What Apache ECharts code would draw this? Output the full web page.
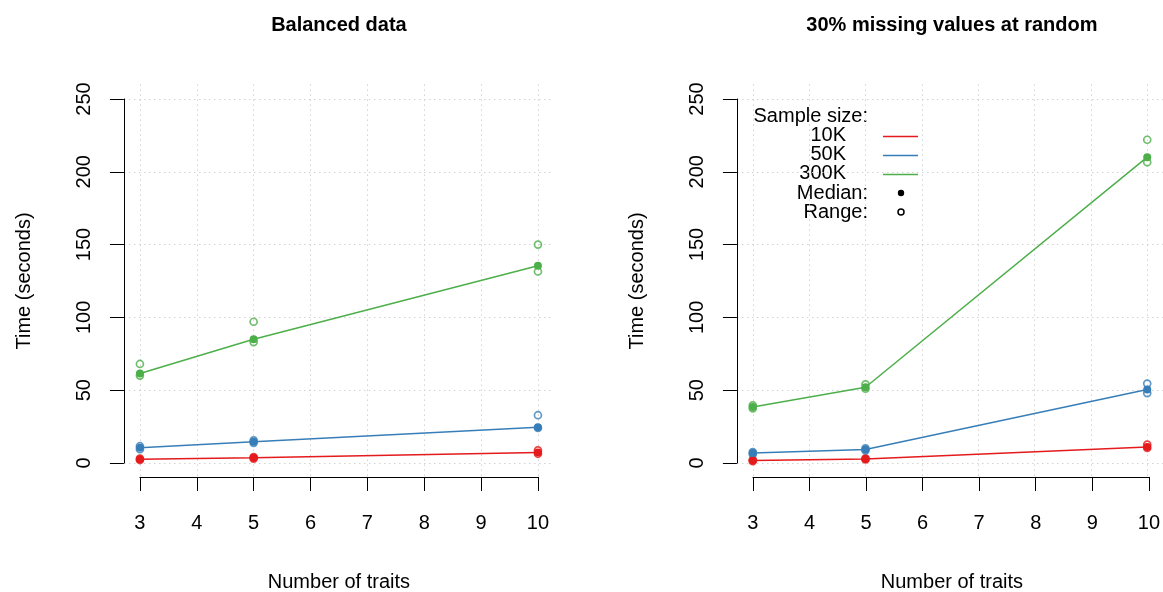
<!DOCTYPE html>
<html>
<head>
<meta charset="utf-8">
<script src="https://cdn.jsdelivr.net/npm/echarts@6/dist/echarts.min.js"></script>
<style>
  html, body { margin: 0; padding: 0; background: #fff; }
  #chart { width: 1163px; height: 592px; }
</style>
</head>
<body>
<div id="chart"></div>
<script>
// data
const traits = [3, 5, 10];
const sizes = ['10K', '50K', '300K'];
const colors = ['#E41A1C', '#377EB8', '#4DAF4A'];

// balanced data: median / min / max per sample size
const balMed10K = [2.5, 3.5, 7.2];
const balMin10K = [2.0, 3.0, 6.3];
const balMax10K = [3.0, 4.0, 8.6];
const balMed50K = [10.5, 14.5, 24.5];
const balMin50K = [9.5, 13.8, 24.0];
const balMax50K = [11.5, 15.5, 32.8];
const balMed300K = [61.5, 85, 135.5];
const balMin300K = [60, 83, 131.5];
const balMax300K = [68, 97, 150];

// 30% missing values
const misMed10K = [1.7, 2.8, 11.0];
const misMin10K = [1.3, 2.4, 10.3];
const misMax10K = [2.1, 3.2, 12.6];
const misMed50K = [6.8, 9.2, 50.5];
const misMin50K = [6.0, 8.6, 48.0];
const misMax50K = [7.5, 10.0, 54.5];
const misMed300K = [38.5, 52, 210];
const misMin300K = [37.5, 51, 206.5];
const misMax300K = [39.5, 54, 222];

const titles = ['Balanced data', '30% missing values at random'];

// layout (R style: plot region padded 4% around the data range)
const FONT = '"Liberation Sans", Arial, Helvetica, sans-serif';
const UX = 56.86;        // px per trait
const UY = 1.456;        // px per second
const panelLeft = [124, 737];
const plotTop = 84.4;
const plotW = 7.56 * UX;
const plotH = 270 * UY;

const grids = [];
const xAxes = [];
const yAxes = [];

panelLeft.forEach(function (pl) {
  // grid A: whole plot region, only the dotted grid lines
  grids.push({ left: pl, top: plotTop, width: plotW, height: plotH, containLabel: false });
  // grid B: axis range, visible axes
  grids.push({ left: pl + 0.28 * UX, top: plotTop + 10 * UY, width: 7 * UX, height: 250 * UY, containLabel: false });
});

const gridLine = {
  show: true,
  showMinLine: false,
  showMaxLine: false,
  lineStyle: { color: '#d3d3d3', width: 1, type: [1.5, 3.5] }
};

for (let g = 0; g < 4; g++) {
  if (g % 2 === 0) {
    xAxes.push({
      gridIndex: g, type: 'value', min: 2.72, max: 10.28,
      minInterval: 1, maxInterval: 1, splitNumber: 7,
      axisLine: { show: false }, axisTick: { show: false }, axisLabel: { show: false },
      splitLine: gridLine
    });
    yAxes.push({
      gridIndex: g, type: 'value', min: -10, max: 260,
      minInterval: 50, maxInterval: 50, splitNumber: 5,
      axisLine: { show: false }, axisTick: { show: false }, axisLabel: { show: false },
      splitLine: gridLine
    });
  } else {
    xAxes.push({
      gridIndex: g, type: 'value', min: 3, max: 10, interval: 1, offset: 14,
      axisLine: { show: true, onZero: false, lineStyle: { color: '#000', width: 1 } },
      axisTick: { show: true, length: 14, lineStyle: { color: '#000', width: 1 } },
      axisLabel: { color: '#000', fontSize: 20, fontFamily: FONT, margin: 37 },
      splitLine: { show: false }
    });
    yAxes.push({
      gridIndex: g, type: 'value', min: 0, max: 250, interval: 50, offset: 16,
      axisLine: { show: true, onZero: false, lineStyle: { color: '#000', width: 1 } },
      axisTick: { show: true, length: 14, lineStyle: { color: '#000', width: 1 } },
      axisLabel: { color: '#000', fontSize: 20, fontFamily: FONT, rotate: 90, margin: 29 },
      splitLine: { show: false }
    });
  }
}

function pts(arr) {
  return traits.map(function (t, k) { return [t, arr[k]]; });
}

function panelSeries(axisIdx, meds, mins, maxs) {
  const out = [];
  sizes.forEach(function (s, i) {
    out.push({
      type: 'scatter', name: s + ' range', xAxisIndex: axisIdx, yAxisIndex: axisIdx,
      data: pts(mins[i]).concat(pts(maxs[i])),
      symbol: 'circle', symbolSize: 7,
      itemStyle: { color: 'rgba(0,0,0,0)', borderColor: colors[i], borderWidth: 1.7 },
      silent: true, z: 3
    });
    out.push({
      type: 'line', name: s, xAxisIndex: axisIdx, yAxisIndex: axisIdx,
      data: pts(meds[i]),
      symbol: 'circle', symbolSize: 8, showSymbol: true, clip: false,
      lineStyle: { color: colors[i], width: 1.5 },
      itemStyle: { color: colors[i] },
      silent: true, z: 4
    });
  });
  return out;
}

const series = [].concat(
  panelSeries(0, [balMed10K, balMed50K, balMed300K], [balMin10K, balMin50K, balMin300K], [balMax10K, balMax50K, balMax300K]),
  panelSeries(2, [misMed10K, misMed50K, misMed300K], [misMin10K, misMin50K, misMin300K], [misMax10K, misMax50K, misMax300K])
);

// texts: titles, axis titles and the legend of the right panel
function txt(s, x, y, opts) {
  return {
    type: 'text', silent: true,
    x: x, y: y, rotation: (opts && opts.rotation) || 0,
    style: {
      text: s, fill: '#000',
      font: ((opts && opts.bold) ? 'bold ' : '') + '20px ' + FONT,
      align: (opts && opts.align) || 'center', verticalAlign: 'middle'
    }
  };
}

const graphics = [];
panelLeft.forEach(function (pl, p) {
  const cx = pl + plotW / 2;
  graphics.push(txt(titles[p], cx, 25, { bold: true }));
  graphics.push(txt('Number of traits', cx, 582));
  graphics.push(txt('Time (seconds)', pl - 100, plotTop + plotH / 2, { rotation: Math.PI / 2 }));
});

const lg = panelLeft[1];
graphics.push(txt('Sample size:', lg + 131, 116, { align: 'right' }));
const legendRowY = [135.5, 154.5, 173.5];
sizes.forEach(function (s, i) {
  graphics.push(txt(s, lg + 109, legendRowY[i], { align: 'right' }));
  graphics.push({
    type: 'line', silent: true,
    shape: { x1: lg + 146, y1: legendRowY[i] + 1, x2: lg + 181, y2: legendRowY[i] + 1 },
    style: { stroke: colors[i], lineWidth: 1.5 }
  });
});
graphics.push(txt('Median:', lg + 131, 193, { align: 'right' }));
graphics.push(txt('Range:', lg + 131, 212, { align: 'right' }));
graphics.push({ type: 'circle', silent: true, shape: { cx: lg + 164, cy: 193, r: 3.2 }, style: { fill: '#000' } });
graphics.push({ type: 'circle', silent: true, shape: { cx: lg + 164, cy: 212, r: 3 }, style: { fill: 'none', stroke: '#000', lineWidth: 1.5 } });

const chart = echarts.init(document.getElementById('chart'), null, { renderer: 'canvas' });
chart.setOption({
  animation: false,
  backgroundColor: '#fff',
  textStyle: { fontFamily: FONT },
  grid: grids,
  xAxis: xAxes,
  yAxis: yAxes,
  series: series,
  graphic: graphics
});
</script>
</body>
</html>
